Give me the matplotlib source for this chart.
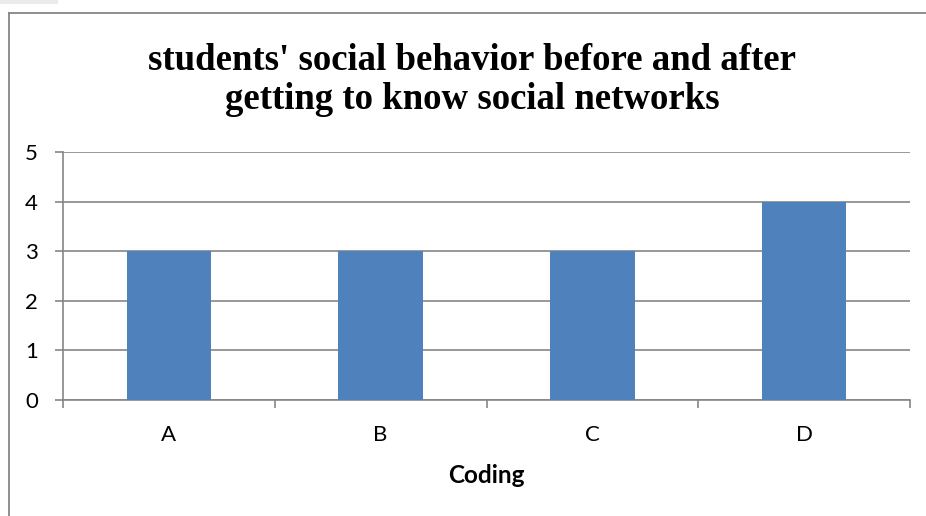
import matplotlib
matplotlib.use("Agg")
import matplotlib.pyplot as plt
from matplotlib.lines import Line2D
from matplotlib.patches import Rectangle

categories = ["A", "B", "C", "D"]
values = [3, 3, 3, 4]
yticks = [0, 1, 2, 3, 4, 5]

W, H = 926, 516
fig = plt.figure(figsize=(W / 100, H / 100), dpi=100)
fig.patch.set_facecolor("white")

ax = fig.add_axes([63 / W, 1 - 400 / H, (910 - 63) / W, (400 - 152) / H])
x = list(range(len(categories)))
ax.bar(x, values, width=0.4, color="#4F81BD", zorder=3)
ax.set_xlim(-0.5, len(categories) - 0.5)
ax.set_ylim(0, 5)
ax.set_yticks(yticks)
ax.set_yticklabels([str(t) for t in yticks], fontsize=16, family="Lato")
ax.set_xticks(x)
ax.set_xticklabels(categories, fontsize=16, family="Lato")
ax.set_xticks([i - 0.5 for i in range(len(categories) + 1)], minor=True)
ax.tick_params(axis="x", which="major", length=0, pad=18)
ax.tick_params(axis="x", which="minor", length=6, color="#868686", width=1.2)
ax.tick_params(axis="y", length=6, color="#868686", width=1.2, pad=12)
ax.grid(axis="y", color="#868686", linewidth=1.2, zorder=0)
for s in ["top", "right"]:
    ax.spines[s].set_visible(False)
for s in ["left", "bottom"]:
    ax.spines[s].set_color("#868686")
    ax.spines[s].set_linewidth(1.2)
ax.set_xlabel("Coding", fontsize=17.5, fontweight="bold", family="Lato", labelpad=14)

fig.text(472 / W, 1 - 80 / H,
         "students' social behavior before and after\ngetting to know social networks",
         ha="center", va="center", fontsize=26.5, fontweight="bold",
         family="Liberation Serif", linespacing=1.12)

# chart border (partially cropped)
fig.add_artist(Line2D([8.5 / W, 8.5 / W], [0, 1 - 12.5 / H], color="#868686", lw=1.3,
                      transform=fig.transFigure))
fig.add_artist(Line2D([8.5 / W, 1], [1 - 12.5 / H, 1 - 12.5 / H], color="#868686", lw=1.3,
                      transform=fig.transFigure))
fig.add_artist(Rectangle((0, 1 - 4 / H), 58 / W, 4 / H, color="#ebebeb",
                         transform=fig.transFigure, lw=0))

fig.savefig("out.png", dpi=100)
